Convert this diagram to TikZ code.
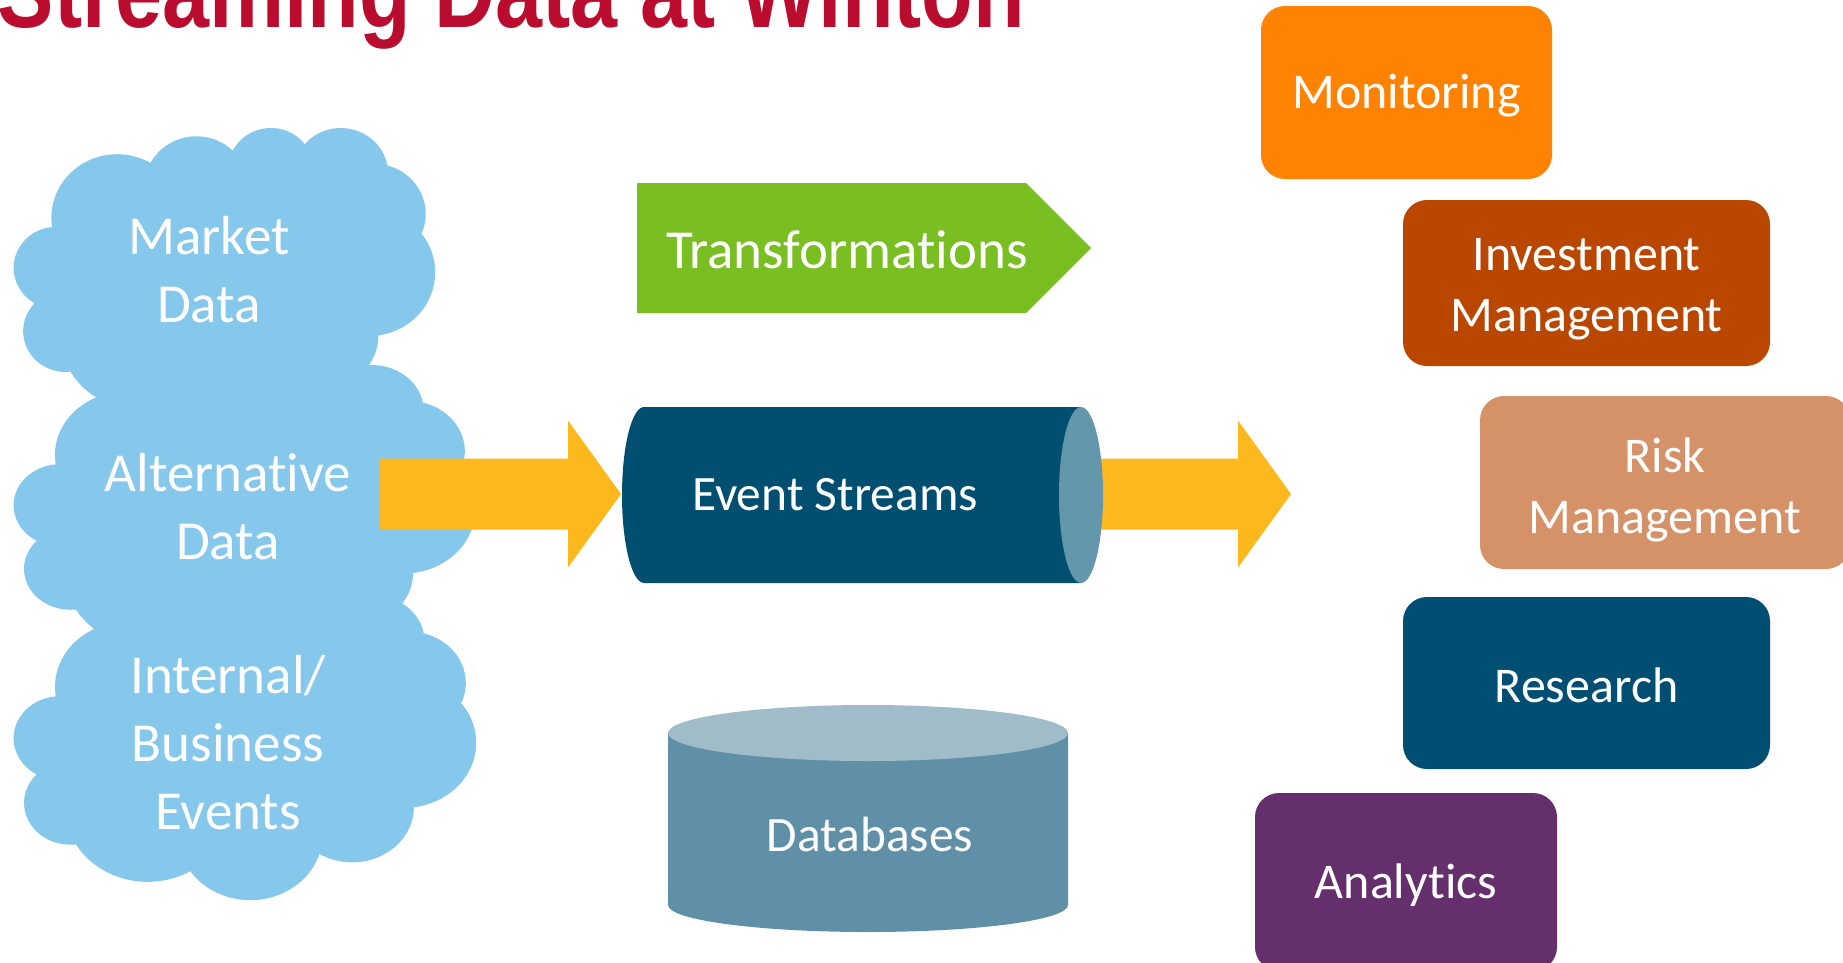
\documentclass[tikz,border=0pt]{standalone}
\usepackage{fontspec}
\setmainfont{Carlito}[Ligatures=NoCommon]
\newfontfamily\titlefont{Liberation Sans}[FakeStretch=0.82]
\usetikzlibrary{calc}

\definecolor{titlered}{RGB}{186,12,47}
\definecolor{cloudblue}{RGB}{133,200,235}
\definecolor{arrowyellow}{RGB}{253,184,30}
\definecolor{transgreen}{RGB}{122,191,33}
\definecolor{streamblue}{RGB}{0,79,112}
\definecolor{capblue}{RGB}{100,150,172}
\definecolor{dbbody}{RGB}{96,144,168}
\definecolor{dbtop}{RGB}{161,188,201}
\definecolor{monorange}{RGB}{255,131,0}
\definecolor{investrust}{RGB}{185,71,0}
\definecolor{risktan}{RGB}{213,146,104}
\definecolor{researchblue}{RGB}{0,79,115}
\definecolor{analyticspurple}{RGB}{101,46,108}

% Cloud outline on a 432 x 432 grid (eleven elliptic arcs, angles measured
% along the ray, converted to the parametric angles that arc[] expects)
\newcommand\cloudoutline{%
  (39.00,143.70)
  \foreach \cwr/\chr/\cst/\csw in {
    67.53/91.90/-190.48748/123.78053,
    53.33/72.67/-144.10238/89.94523,
    43.65/59.45/-145.80792/99.72302,
    48.57/65.95/-130.98607/117.24173,
    53.33/72.73/-78.70888/109.02692,
    67.75/92.20/-46.26725/130.269,
    57.85/78.67/0.62502/114.03333,
    67.52/92.15/22.4516/115.17255,
    77.20/105.43/66.24263/75.71102,
    43.60/59.18/-274.94208/146.73557,
    43.45/59.45/-246.8285/152.51885}
  { arc[x radius=\cwr, y radius=\chr,
        start angle={atan2(\cwr*sin(\cst),\chr*cos(\cst))},
        delta angle={mod(atan2(\cwr*sin(\cst+\csw),\chr*cos(\cst+\csw))-atan2(\cwr*sin(\cst),\chr*cos(\cst))+720,360)}] }
  -- cycle}

% #1 left, #2 top, #3 and #4 horizontal / vertical scale of the 432 grid
\newcommand\cloudat[4]{%
  \fill[cloudblue, shift={(#1,#2)}, x=#3pt, y=-#4pt] \cloudoutline;}

% yellow block arrow from a tail coordinate to a tip coordinate
\newcommand\blockarrow[2]{%
  \fill[arrowyellow] ($(#1)+(0,-35.5)$) -- ($(#2)+(-53,-35.5)$)
    -- ($(#2)+(-53,-73.5)$) -- (#2) -- ($(#2)+(-53,73.5)$)
    -- ($(#2)+(-53,35.5)$) -- ($(#1)+(0,35.5)$) -- cycle;}

\tikzset{
  every node/.style={inner sep=0pt, outer sep=0pt},
  cloudtext/.style={text=white, align=center, font=\fontsize{55}{68}\selectfont},
  plaintext/.style={text=white, font=\fontsize{49.5}{60}\selectfont},
  appbox/.style={rounded corners=24},
  apptext/.style={text=white, align=center, font=\fontsize{50}{61}\selectfont},
}

\begin{document}
\begin{tikzpicture}[x=1pt, y=-1pt]
\useasboundingbox (0,0) rectangle (1843,962);
\clip (0,0) rectangle (1843,962);

% heading, cut by the top edge
\node[anchor=base west, text=titlered,
      font=\titlefont\bfseries\fontsize{103}{110}\selectfont]
  (title) at (-2,27) {Streaming Data at Winton};

% source clouds
\cloudat{14}{127}{0.97454}{0.68981}
\cloudat{14}{364}{1.06713}{0.69213}
\cloudat{14}{594}{1.06944}{0.70602}
\node[cloudtext] (market) at (209,270) {Market\\Data};
\node[cloudtext] (altdata) at (228,507) {Alternative\\Data};
\node[cloudtext] (internal) at (228,743) {Internal/\\Business\\Events};

% arrow into the stream
\coordinate (inTail) at (380,494);
\coordinate (inTip) at (621,494);
\blockarrow{inTail}{inTip}

% arrow out of the stream (tail hidden under the cylinder)
\coordinate (outTail) at (1060,494);
\coordinate (outTip) at (1291,494);
\blockarrow{outTail}{outTip}

% transformations tag
\fill[transgreen] (637,183) -- (1026,183) -- (1091,248) -- (1026,313)
  -- (637,313) -- cycle;
\node[text=white, font=\fontsize{55}{66}\selectfont] (transf) at (847,250)
  {Transformations};

% event stream pipe
\fill[streamblue] (1081,407) -- (644,407)
  arc[start angle=270, end angle=90, x radius=22, y radius=88]
  -- (1081,583) -- cycle;
\fill[capblue] (1081,495) ellipse[x radius=22, y radius=88];
\node[plaintext] (stream) at (835,495) {Event Streams};

% database drum
\fill[dbbody] (668,733) -- (668,905)
  arc[start angle=180, end angle=0, x radius=200, y radius=27]
  -- (1068,733) -- cycle;
\fill[dbtop] (868,733) ellipse[x radius=200, y radius=28];
\node[plaintext] (db) at (870,834) {Databases};

% consumers
\node[appbox, fill=monorange, minimum width=291, minimum height=173]
  (monitoring) at (1406.5,92.5) {};
\node[appbox, fill=investrust, minimum width=367, minimum height=166]
  (invest) at (1586.5,283) {};
\node[appbox, fill=risktan, minimum width=370, minimum height=173]
  (risk) at (1665,482.5) {};
\node[appbox, fill=researchblue, minimum width=367, minimum height=172]
  (research) at (1586.5,683) {};
\node[appbox, fill=analyticspurple, minimum width=302, minimum height=178]
  (analytics) at (1406,882) {};

\node[apptext] (monitoringlabel) at ($(monitoring.center)+(0,3.5)$) {Monitoring};
\node[apptext] (investlabel) at ($(invest.center)+(0,6)$) {Investment\\Management};
\node[apptext] (risklabel) at ($(risk.center)+(0,7)$) {Risk\\Management};
\node[apptext] (researchlabel) at ($(research.center)+(0,2.5)$) {Research};
\node[apptext] (analyticslabel) at ($(analytics.center)+(0,3.5)$) {Analytics};
\end{tikzpicture}
\end{document}
